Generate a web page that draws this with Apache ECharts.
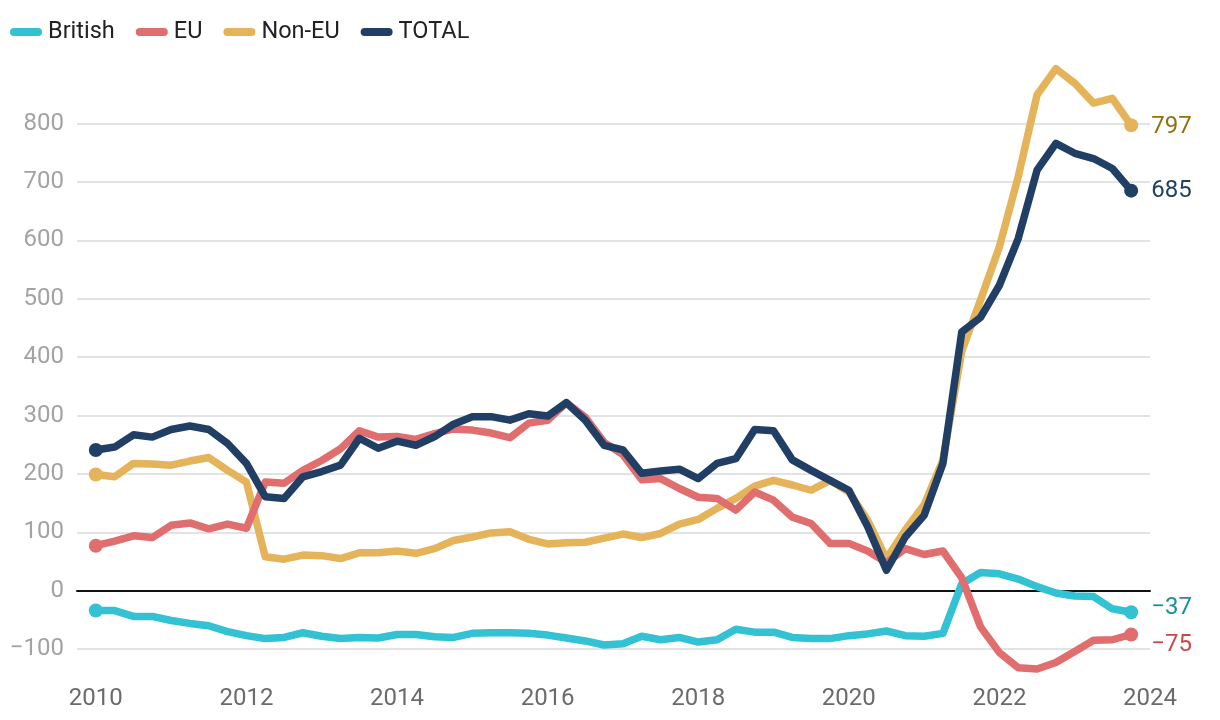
<!DOCTYPE html>
<html>
<head>
<meta charset="utf-8">
<script src="https://cdn.jsdelivr.net/npm/echarts@6/dist/echarts.min.js"></script>
<style>
  html, body { margin: 0; padding: 0; background: #ffffff; }
  #chart { width: 1220px; height: 720px; }
</style>
</head>
<body>
<div id="chart"></div>
<script>
// Quarterly periods 2010 Q1 .. 2023 Q4
const years = [2010, 2011, 2012, 2013, 2014, 2015, 2016, 2017, 2018, 2019, 2020, 2021, 2022, 2023];
const quarterOffsets = [0, 0.25, 0.5, 0.75];
const periods = [];
years.forEach(y => quarterOffsets.forEach(q => periods.push(y + q)));

const xTicks = [2010, 2012, 2014, 2016, 2018, 2020, 2022, 2024];

const british = [-34, -34, -44, -44, -51, -56, -60, -70, -77, -82, -80, -72, -78, -82, -80, -81,
  -75, -75, -79, -80, -73, -72, -72, -73, -76, -81, -86, -93, -91, -78, -84, -80,
  -88, -84, -66, -71, -71, -80, -82, -82, -77, -74, -69, -77, -78, -73, 12, 31,
  29, 20, 7, -4, -9, -10, -31, -37];

const eu = [77, 85, 94, 91, 112, 116, 106, 114, 107, 186, 184, 206, 223, 243, 274, 263,
  264, 259, 269, 277, 275, 270, 262, 287, 292, 322, 297, 254, 233, 190, 192, 175,
  160, 158, 138, 169, 155, 126, 115, 81, 81, 68, 48, 72, 62, 68, 22, -62,
  -106, -132, -134, -123, -104, -85, -84, -75];

const nonEu = [199, 195, 218, 217, 215, 222, 228, 206, 186, 58, 54, 61, 60, 55, 65, 65,
  68, 64, 72, 86, 92, 99, 101, 88, 80, 82, 83, 90, 97, 91, 98, 114,
  122, 141, 158, 179, 189, 181, 172, 189, 169, 121, 55, 104, 147, 224, 410, 498,
  589, 709, 849, 894, 869, 835, 843, 797];

const total = [241, 246, 267, 263, 276, 282, 276, 252, 218, 161, 158, 195, 204, 215, 261, 244,
  256, 249, 264, 285, 298, 298, 292, 303, 299, 322, 292, 249, 241, 201, 205, 208,
  192, 218, 226, 276, 274, 224, 206, 189, 172, 110, 35, 92, 129, 218, 443, 468,
  523, 603, 720, 766, 749, 740, 723, 685];

const FONT = 'Roboto';
const minus = v => String(v).replace('-', '\u2212');

function buildData(values, labelColor, labelOffset) {
  const last = values.length - 1;
  return values.map((v, i) => {
    const item = { value: [periods[i], v] };
    if (i === 0 || i === last) {
      item.symbol = 'circle';
      item.symbolSize = 14;
    }
    if (i === last) {
      item.label = {
        show: true,
        position: 'right',
        distance: 13,
        offset: labelOffset,
        formatter: p => minus(p.value[1]),
        color: labelColor,
        fontSize: 24,
        fontFamily: FONT
      };
    }
    return item;
  });
}

function lineSeries(name, values, color, labelColor, labelOffset, z) {
  return {
    name: name,
    type: 'line',
    xAxisIndex: 0,
    data: buildData(values, labelColor, labelOffset),
    symbol: 'none',
    showSymbol: true,
    clip: false,
    z: z,
    lineStyle: { color: color, width: 7.5, cap: 'round', join: 'round' },
    itemStyle: { color: color },
    label: { show: false },
    emphasis: { disabled: true },
    silent: true
  };
}

const capsule = 'path://M4,0 L28,0 A4,4 0 0 1 28,8 L4,8 A4,4 0 0 1 4,0 Z';

const chart = echarts.init(document.getElementById('chart'), null, { renderer: 'canvas' });
chart.setOption({
  animation: false,
  backgroundColor: '#ffffff',
  textStyle: { fontFamily: FONT },
  legend: {
    left: 5,
    top: 15,
    icon: capsule,
    itemWidth: 32,
    itemHeight: 8,
    itemGap: 21,
    data: ['British', 'EU', 'Non-EU', 'TOTAL'],
    textStyle: { fontSize: 23.5, color: '#222222', fontFamily: FONT, padding: [0, 0, 0, 1] },
    selectedMode: false
  },
  grid: { left: 77, right: 70, top: 65.1, bottom: 12.5, containLabel: false },
  xAxis: [{
    type: 'value',
    min: 2009.75,
    max: 2024,
    axisLine: { show: false, onZero: false },
    axisTick: { show: false },
    splitLine: { show: false },
    axisLabel: {
      customValues: xTicks,
      inside: true,
      margin: -3,
      fontSize: 24,
      color: '#6b6b6b',
      fontFamily: FONT,
      formatter: v => String(v)
    }
  }, {
    type: 'value',
    min: 2009.75,
    max: 2024,
    position: 'bottom',
    axisLine: { show: true, onZero: true, onZeroAxisIndex: 0, lineStyle: { color: '#111111', width: 2 } },
    axisTick: { show: false },
    axisLabel: { show: false },
    splitLine: { show: false }
  }],
  yAxis: {
    type: 'value',
    min: -200,
    max: 900,
    interval: 100,
    axisLine: { show: false },
    axisTick: { show: false },
    splitLine: { show: true, showMinLine: false, showMaxLine: false, lineStyle: { color: '#e3e3e3', width: 2 } },
    axisLabel: {
      showMinLabel: false,
      showMaxLabel: false,
      margin: 13,
      fontSize: 24,
      color: '#a3a3a3',
      fontFamily: FONT,
      formatter: v => minus(v)
    }
  },
  series: [
    lineSeries('British', british, '#33c1d4', '#1b8e9e', [0, -4], 2),
    lineSeries('EU', eu, '#e06e6e', '#c8484c', [0, 10], 4),
    lineSeries('Non-EU', nonEu, '#e4b35a', '#94700f', [0, 2], 3),
    lineSeries('TOTAL', total, '#213f64', '#213f64', [0, 0], 5)
  ]
});
</script>
</body>
</html>
